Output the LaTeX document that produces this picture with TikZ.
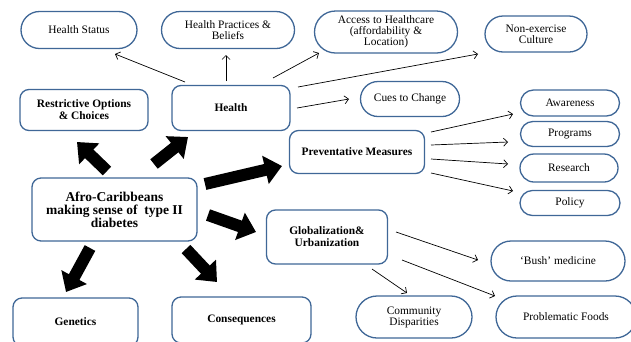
\documentclass[tikz,border=0pt]{standalone}
\usepackage{fontspec}
\setmainfont{Liberation Serif}
\usetikzlibrary{arrows.meta,shapes.misc}
\definecolor{edgeblue}{HTML}{3F6797}
\begin{document}
\begin{tikzpicture}[x=1pt,y=-1pt,
  base/.style={draw=edgeblue, line width=1.3pt, fill=white, align=center, inner sep=1pt,
    font=\fontsize{11.4}{11}\selectfont},
  pill/.style={base, rounded rectangle},
  rbox/.style={base, rectangle, rounded corners=9pt, font=\fontsize{11.4}{12}\selectfont\bfseries},
  sz/.style 2 args={minimum width=#1pt, minimum height=#2pt},
  thin/.style={draw=black, line width=0.7pt, -{Straight Barb[length=4pt,width=8pt]}},
  big/.style={draw=black, line width=12pt, -{Triangle[width=28pt,length=17pt]}}
]
\useasboundingbox (0,0) rectangle (631,341);
\clip (0,0) rectangle (631,341);

% top row
\node[pill, sz={118}{37}] (hstatus) at (79,30) {Health Status};
\node[pill, sz={135}{37}] (hpract) at (228,30) {Health Practices \&\\Beliefs};
\node[pill, sz={145}{42}] (access) at (386,32) {Access to Healthcare\\(affordability \&\\Location)};
\node[pill, sz={104}{36}] (nonex) at (536,34) {Non-exercise\\Culture};

% second row
\node[rbox, sz={128}{41}] (restr) at (84,110) {Restrictive Options\\\& Choices};
\node[rbox, sz={118}{45}] (health) at (231,108) {Health};
\node[pill, sz={101}{35}] (cues) at (410,99) {Cues to Change};

% preventative
\node[rbox, sz={135}{43}] (prev) at (357,152) {Preventative Measures};
\node[pill, sz={101}{26}] (aware) at (570,103) {Awareness};
\node[pill, sz={101}{25}] (progr) at (570,134) {Programs};
\node[pill, sz={100}{28}] (research) at (569,168) {Research};
\node[pill, sz={102}{25}] (policy) at (570,203) {Policy};

% centre
\node[rbox, sz={165}{63}, font=\fontsize{13.5}{13}\selectfont\bfseries] (afro) at (114.5,209.5)
  {Afro-Caribbeans\\making sense of~ type II\\diabetes};

% globalization
\node[rbox, sz={121}{54}] (glob) at (327,237) {Globalization\&\\Urbanization};
\node[pill, sz={136}{40}] (bush) at (558,261) {‘Bush’ medicine};
\node[pill, sz={118}{42}] (commun) at (414,317) {Community\\Disparities};
\node[pill, sz={142}{42}] (probf) at (566,317) {Problematic Foods};

% bottom
\node[rbox, sz={125}{48}] (genetics) at (75.5,322) {Genetics};
\node[rbox, sz={139}{46}] (conseq) at (241.5,320) {Consequences};

% thin arrows from Health
\draw[thin] ([shift={(-46,-26)}]health.center) -- ([shift={(36,24)}]hstatus.center);
\draw[thin] ([shift={(-5,-27)}]health.center) -- ([shift={(-2,25)}]hpract.center);
\draw[thin] ([shift={(42,-30)}]health.center) -- ([shift={(-67,21)}]access.center);
\draw[thin] ([shift={(67,-21)}]health.center) -- ([shift={(-58,20)}]nonex.center);
\draw[thin] ([shift={(66,0)}]health.center) -- ([shift={(-61,0)}]cues.center);

% thin arrows from Preventative Measures
\draw[thin] ([shift={(74,-20)}]prev.center) -- ([shift={(-57,11)}]aware.center);
\draw[thin] ([shift={(74,-7)}]prev.center) -- ([shift={(-62,8)}]progr.center);
\draw[thin] ([shift={(74,7)}]prev.center) -- ([shift={(-61,-4)}]research.center);
\draw[thin] ([shift={(74,21)}]prev.center) -- ([shift={(-57,-12)}]policy.center);

% thin arrows from Globalization
\draw[thin] ([shift={(69,-5)}]glob.center) -- ([shift={(-80,-1)}]bush.center);
\draw[thin] ([shift={(75,23)}]glob.center) -- ([shift={(-71,-21)}]probf.center);
\draw[thin] ([shift={(45,32)}]glob.center) -- ([shift={(-7,-24)}]commun.center);

% block arrows from the centre
\draw[big] ([shift={(-7.5,-38.5)}]afro.center) -- ([shift={(-7,32)}]restr.center);
\draw[big] ([shift={(39.5,-45.5)}]afro.center) -- ([shift={(-43,29)}]health.center);
\draw[big] ([shift={(90.5,-25.5)}]afro.center) -- ([shift={(-75,14)}]prev.center);
\draw[big] ([shift={(93.5,5.5)}]afro.center) -- ([shift={(-71,-5)}]glob.center);
\draw[big] ([shift={(-24.5,38.5)}]afro.center) -- ([shift={(-9.5,-30)}]genetics.center);
\draw[big] ([shift={(71.5,39.5)}]afro.center) -- ([shift={(-24.5,-38)}]conseq.center);
\end{tikzpicture}
\end{document}
